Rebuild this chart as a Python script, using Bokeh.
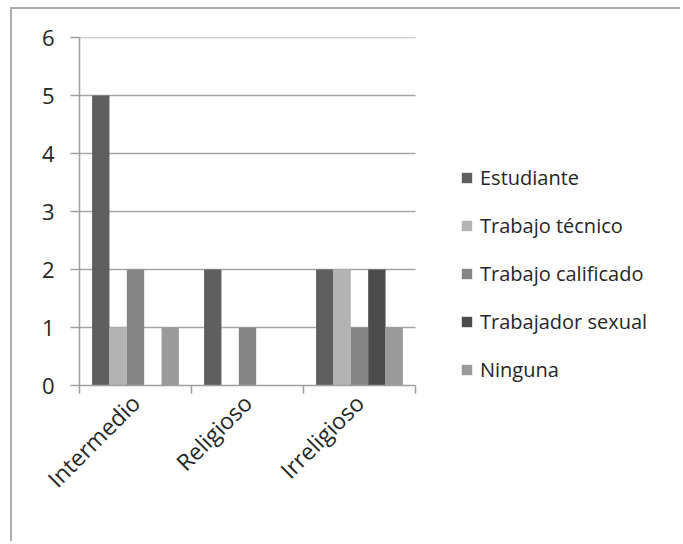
from bokeh.plotting import figure
from bokeh.models import ColumnDataSource, Range1d, FixedTicker, Legend, LegendItem
from bokeh.transform import dodge
from bokeh.embed import file_html
from bokeh.resources import INLINE
import math

categories = ["Intermedio", "Religioso", "Irreligioso"]
series = ["Estudiante", "Trabajo técnico", "Trabajo calificado", "Trabajador sexual", "Ninguna"]
estudiante = [5, 2, 2]
trabajo_tecnico = [1, 0, 2]
trabajo_calificado = [2, 1, 1]
trabajador_sexual = [0, 0, 2]
ninguna = [1, 0, 1]
y_ticks = [0, 1, 2, 3, 4, 5, 6]

values = [estudiante, trabajo_tecnico, trabajo_calificado, trabajador_sexual, ninguna]
colors = ["#5f5f5f", "#b3b3b3", "#858585", "#4b4b4b", "#9a9a9a"]

FONT = "Open Sans"
OFFX, OFFY = 12, 9  # border + margin applied through styles

NCAT = len(categories)
EXTRA = 2.25  # extra room (in category units) to the right of the bars for the legend
UNIT = 112
W, H = 670, 534
FL, FT = 79 - OFFX, 37 - OFFY
FW, FH = int(UNIT * (NCAT + EXTRA)), 348
p = figure(width=W, height=H, output_backend="svg", toolbar_location=None,
           x_range=Range1d(0, NCAT + EXTRA), y_range=Range1d(0, 6),
           min_border_left=FL, min_border_right=W - FL - FW,
           min_border_top=FT, min_border_bottom=H - FT - FH)
p.outline_line_color = None
p.background_fill_color = "white"
p.border_fill_color = "white"
p.styles = {"border-left": "2px solid #ababab", "border-top": "2px solid #ababab",
            "margin-left": "10px", "margin-top": "7px"}

# horizontal gridlines limited to the category area
p.xgrid.grid_line_color = None
p.ygrid.grid_line_color = None
p.segment(x0=0, x1=NCAT, y0=y_ticks[1:], y1=y_ticks[1:],
          line_color="#a6a6a6", line_width=1.5, level="underlay")

centers = [i + 0.5 for i in range(NCAT)]
data = {"x": centers}
keys = ["s%d" % i for i in range(len(series))]
for k, v in zip(keys, values):
    data[k] = v
src = ColumnDataSource(data)

bw = 0.155
offsets = [-0.31, -0.155, 0.0, 0.155, 0.31]
items = []
for k, name, off, col in zip(keys, series, offsets, colors):
    r = p.vbar(x=dodge("x", off), top=k, width=bw, source=src,
               fill_color=col, line_color=None)
    items.append(LegendItem(label=name, renderers=[r]))

legend = Legend(items=items, location=(460 - 79, 2))
legend.border_line_color = None
legend.background_fill_alpha = 0
legend.padding = 0
legend.margin = 0
legend.spacing = 21
legend.label_height = 20
legend.glyph_height = 13
legend.glyph_width = 13
legend.label_standoff = 7
legend.label_text_font = FONT
legend.label_text_font_size = "20px"
legend.label_text_color = "#262626"
legend.label_text_baseline = "middle"
p.add_layout(legend, "center")

# axes
xa = p.xaxis[0]
xa.bounds = (0, NCAT)
xa.ticker = FixedTicker(ticks=centers, minor_ticks=list(range(NCAT + 1)))
xa.major_label_overrides = {c: n for c, n in zip(centers, categories)}
xa.major_tick_line_color = None
xa.minor_tick_out = 8
xa.minor_tick_in = 0
xa.minor_tick_line_color = "#a0a0a0"
xa.minor_tick_line_width = 1.5
xa.axis_line_color = "#a0a0a0"
xa.axis_line_width = 1.5
xa.major_label_orientation = math.pi / 4
xa.major_label_text_font = FONT
xa.major_label_text_font_size = "23px"
xa.major_label_text_color = "#262626"
xa.major_label_standoff = 5

ya = p.yaxis[0]
ya.ticker = FixedTicker(ticks=y_ticks)
ya.major_tick_out = 9
ya.major_tick_in = 0
ya.minor_tick_line_color = None
ya.major_tick_line_color = "#a0a0a0"
ya.major_tick_line_width = 1.5
ya.axis_line_color = "#a0a0a0"
ya.axis_line_width = 1.5
ya.major_label_text_font = FONT
ya.major_label_text_font_size = "22px"
ya.major_label_text_color = "#262626"
ya.major_label_standoff = 16

open("out.html", "w").write(file_html(p, INLINE))
